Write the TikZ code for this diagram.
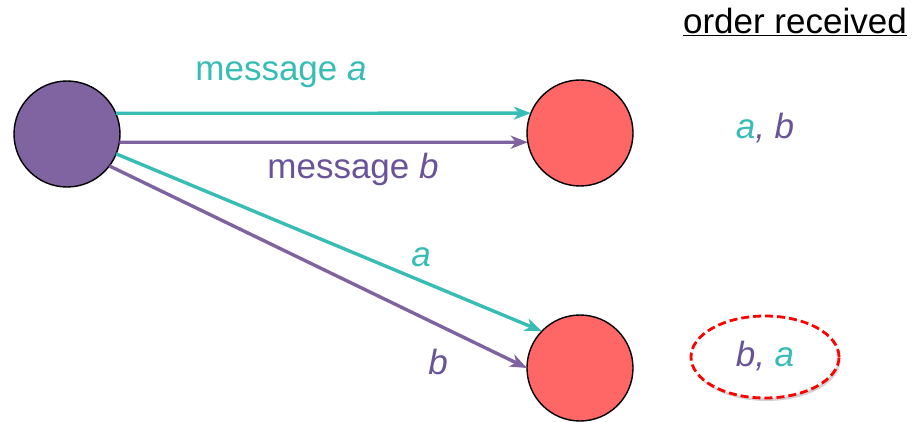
\documentclass[tikz,border=0pt]{standalone}
\usepackage{fontspec}
\setmainfont{Liberation Sans}
\usetikzlibrary{arrows.meta,shadows,shapes.geometric}
\definecolor{tealc}{HTML}{38BDB6}
\definecolor{purpc}{HTML}{7F63A0}
\definecolor{purpt}{HTML}{6A5499}
\definecolor{sendfill}{HTML}{8064A2}
\definecolor{recvfill}{HTML}{FF6666}
\begin{document}
\begin{tikzpicture}[x=1pt,y=-1pt,
  proc/.style={circle,draw=black,line width=1.4pt,minimum size=106pt,inner sep=0pt,outer sep=0pt},
  msg/.style={line width=3.4pt,-{Stealth[length=17pt,width=13pt,inset=5pt]}},
  lbl/.style={font=\fontsize{35}{40}\selectfont,inner sep=0pt}]
\useasboundingbox (0,0) rectangle (912,422);
\node[proc,fill=sendfill] (s) at (67,134) {};
\node[proc,fill=recvfill] (r1) at (580,133) {};
\node[proc,fill=recvfill] (r2) at (580,368) {};
\draw[msg,tealc] (s.23) -- (r1.158);
\draw[msg,purpc] (s.-9) -- (r1.-170);
\draw[msg,tealc] (s.-22) -- (r2.136);
\draw[msg,purpc] (s.-37) -- (r2.180);
\node[lbl,text=tealc] (la) at (281,75) {message \textit{a}};
\node[lbl,text=purpt] (lb) at (353,169) {message \textit{b}};
\node[lbl,text=tealc] (la2) at (421,257) {\textit{a}};
\node[lbl,text=purpt] (lb2) at (438,362) {\textit{b}};
\node[lbl,anchor=east] (hd) at (907,22) {\underline{order received}};
\node[lbl] (o1) at (765,128) {\textcolor{tealc}{\textit{a}}\textcolor{purpt}{\textit{,}} \textcolor{purpt}{\textit{b}}};
\node[ellipse,draw=red,dashed,dash pattern=on 8pt off 4pt,line width=2.8pt,minimum width=148pt,minimum height=82pt,fill=white,
  drop shadow={shadow xshift=1.5pt,shadow yshift=-3pt,fill=black!35,opacity=0.5}] (e) at (765,357) {};
\node[lbl] (o2) at (765,356) {\textcolor{purpt}{\textit{b,}} \textcolor{tealc}{\textit{a}}};
\end{tikzpicture}
\end{document}
